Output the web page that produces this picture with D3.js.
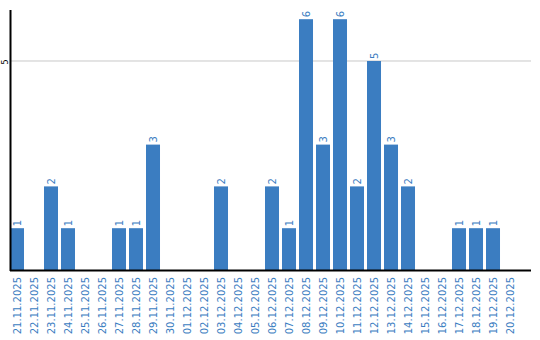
<!DOCTYPE html>
<html>
<head>
<meta charset="utf-8">
<script src="https://cdn.jsdelivr.net/npm/d3@7"></script>
<style>
  body { margin: 0; background: #fff; }
  svg { display: block; font-family: "DejaVu Sans", Verdana, sans-serif; }
</style>
</head>
<body>
<div id="chart"></div>
<script>
// dates and counts
const days = ["21.11.2025","22.11.2025","23.11.2025","24.11.2025","25.11.2025","26.11.2025",
  "27.11.2025","28.11.2025","29.11.2025","30.11.2025","01.12.2025","02.12.2025","03.12.2025",
  "04.12.2025","05.12.2025","06.12.2025","07.12.2025","08.12.2025","09.12.2025","10.12.2025",
  "11.12.2025","12.12.2025","13.12.2025","14.12.2025","15.12.2025","16.12.2025","17.12.2025",
  "18.12.2025","19.12.2025","20.12.2025"];
const counts = [1,0,2,1,0,0,1,1,3,0,0,0,2,0,0,2,1,6,3,6,2,5,3,2,0,0,1,1,1,0];
const yTicks = [5];

const data = days.map((d, i) => ({day: d, n: counts[i]}));

const W = 540, H = 340;
const plotL = 10, plotR = 531, plotT = 10, base = 270;
const blue = "#3b7dc1";

let svg = d3.select("#chart").append("svg")
  .attr("width", W).attr("height", H);

let x = d3.scaleBand()
  .domain(days)
  .range([plotL, plotL + 29.824 * 17])
  .paddingInner(3 / 17)
  .paddingOuter(0);

let y = d3.scaleLinear()
  .domain([0, 6.22])
  .range([base, plotT]);

// grid line
svg.append("g")
  .selectAll("line")
  .data(yTicks)
  .enter()
  .append("line")
    .attr("x1", plotL).attr("x2", plotR)
    .attr("y1", d => y(d)).attr("y2", d => y(d))
    .attr("stroke", "#c8c8c8")
    .attr("stroke-width", 1);

// bars
svg.append("g")
  .selectAll("rect")
  .data(data.filter(d => d.n > 0))
  .enter()
  .append("rect")
    .attr("x", d => x(d.day))
    .attr("y", d => y(d.n))
    .attr("width", x.bandwidth())
    .attr("height", d => base - y(d.n))
    .attr("fill", blue);

// value labels
svg.append("g")
  .selectAll("text")
  .data(data.filter(d => d.n > 0))
  .enter()
  .append("text")
    .attr("transform", d => `translate(${x(d.day) + x.bandwidth() / 2 + 3.5}, ${y(d.n) - 2}) rotate(-90)`)
    .attr("font-size", "10px")
    .attr("fill", blue)
    .text(d => d.n);

// x labels
svg.append("g")
  .selectAll("text")
  .data(days)
  .enter()
  .append("text")
    .attr("transform", d => `translate(${x(d) + x.bandwidth() / 2 + 3.5}, 277) rotate(-90)`)
    .attr("text-anchor", "end")
    .attr("font-size", "10px")
    .attr("fill", blue)
    .text(d => d);

// y tick labels
svg.append("g")
  .selectAll("text")
  .data(yTicks)
  .enter()
  .append("text")
    .attr("transform", d => `translate(7.5, ${y(d) + 1}) rotate(-90)`)
    .attr("text-anchor", "middle")
    .attr("font-size", "8px")
    .attr("fill", "#000")
    .text(d => d);

// axes lines
svg.append("line")
  .attr("x1", plotL + 0.5).attr("x2", plotL + 0.5)
  .attr("y1", plotT).attr("y2", base + 1)
  .attr("stroke", "#000").attr("stroke-width", 2);
svg.append("line")
  .attr("x1", plotL).attr("x2", plotR)
  .attr("y1", base + 0.5).attr("y2", base + 0.5)
  .attr("stroke", "#000").attr("stroke-width", 2);
</script>
</body>
</html>
